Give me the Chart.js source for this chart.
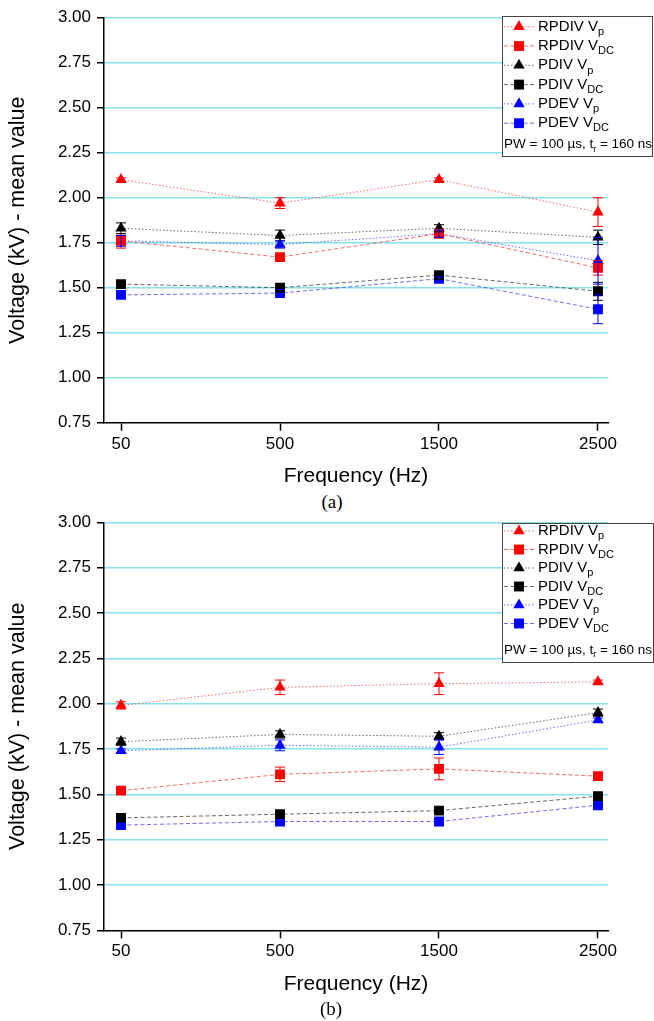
<!DOCTYPE html>
<html>
<head>
<meta charset="utf-8">
<script src="https://cdn.jsdelivr.net/npm/chart.js@4.4.1/dist/chart.umd.min.js"></script>
<style>
  body { margin: 0; background: #fff; }
  #page { position: relative; width: 654px; height: 1021px; overflow: hidden; }
  canvas { position: absolute; left: 0; }
  .cap { position: absolute; width: 60px; text-align: center; font: 19px "Liberation Serif", "Times New Roman", serif; color: #000; }
</style>
</head>
<body>
<div id="page">
  <canvas id="chartA" width="654" height="490" style="top:0"></canvas>
  <div class="cap" style="left:302px; top:491px">(a)</div>
  <canvas id="chartB" width="654" height="495" style="top:505px"></canvas>
  <div class="cap" style="left:301px; top:998px">(b)</div>
</div>
<script>
// x categories and series names
const freqLabels = ['50', '500', '1500', '2500'];
const seriesNames = ['RPDIV V', 'RPDIV V', 'PDIV V', 'PDIV V', 'PDEV V', 'PDEV V'];
const seriesSubs = ['p', 'DC', 'p', 'DC', 'p', 'DC'];
const yTicks = [0.75, 1.00, 1.25, 1.50, 1.75, 2.00, 2.25, 2.50, 2.75, 3.00];

// panel (a) mean values (kV) and error half-widths
const aRpdivVp = [2.10, 1.97, 2.10, 1.92];
const aRpdivVpErr = [0.01, 0.03, 0.01, 0.08];
const aRpdivVdc = [1.76, 1.67, 1.80, 1.61];
const aRpdivVdcErr = [0.04, 0.01, 0.02, 0.04];
const aPdivVp = [1.83, 1.79, 1.83, 1.78];
const aPdivVpErr = [0.03, 0.03, 0.02, 0.04];
const aPdivVdc = [1.52, 1.50, 1.57, 1.48];
const aPdivVdcErr = [0.01, 0.01, 0.01, 0.05];
const aPdevVp = [1.76, 1.74, 1.80, 1.65];
const aPdevVpErr = [0.03, 0.02, 0.02, 0.13];
const aPdevVdc = [1.46, 1.47, 1.55, 1.38];
const aPdevVdcErr = [0.02, 0.02, 0.01, 0.08];

// panel (b)
const bRpdivVp = [1.99, 2.09, 2.11, 2.12];
const bRpdivVpErr = [0.02, 0.04, 0.06, 0.01];
const bRpdivVdc = [1.52, 1.61, 1.64, 1.60];
const bRpdivVdcErr = [0.01, 0.04, 0.06, 0.02];
const bPdivVp = [1.79, 1.83, 1.82, 1.95];
const bPdivVpErr = [0.02, 0.02, 0.02, 0.02];
const bPdivVdc = [1.37, 1.39, 1.41, 1.49];
const bPdivVdcErr = [0.01, 0.01, 0.01, 0.01];
const bPdevVp = [1.74, 1.77, 1.76, 1.91];
const bPdevVpErr = [0.01, 0.03, 0.04, 0.01];
const bPdevVdc = [1.33, 1.35, 1.35, 1.44];
const bPdevVdcErr = [0.01, 0.01, 0.02, 0.01];

// look of each series
const markColors = ['#ff0000', '#ff0000', '#000000', '#000000', '#0000ff', '#0000ff'];
const lineColors = ['rgba(235,60,60,0.75)', 'rgba(235,60,60,0.75)', 'rgba(40,40,40,0.7)', 'rgba(40,40,40,0.7)', 'rgba(50,50,230,0.7)', 'rgba(50,50,230,0.7)'];
const markStyles = ['triangle', 'rect', 'triangle', 'rect', 'triangle', 'rect'];
const markSizes = [6.6, 7, 6.6, 7, 6.6, 7];
const DOTTED = [1.5, 2];
const DASHED = [4, 2.5];
const lineDashes = [DOTTED, DASHED, DOTTED, DASHED, DOTTED, DASHED];

const GRID = '#84e4ea';
const SANS = '"Liberation Sans", Arial, sans-serif';
Chart.defaults.font.family = SANS;
Chart.defaults.color = '#000';

function drawSub(ctx, main, sub, tail, x, y, size) {
  ctx.font = size + 'px ' + SANS;
  ctx.textBaseline = 'middle';
  ctx.fillText(main, x, y);
  x += ctx.measureText(main).width;
  const small = Math.round(size * 0.7);
  ctx.font = small + 'px ' + SANS;
  ctx.fillText(sub, x, y + size * 0.35);
  x += ctx.measureText(sub).width;
  if (tail) {
    ctx.font = size + 'px ' + SANS;
    ctx.fillText(tail, x, y);
  }
}

const errorBars = {
  id: 'errorBars',
  afterDatasetsDraw(chart) {
    const { ctx, scales: { x, y } } = chart;
    ctx.save();
    ctx.lineWidth = 1;
    chart.data.datasets.forEach(ds => {
      ctx.strokeStyle = ds.pointBackgroundColor;
      ds.data.forEach((p, i) => {
        const e = ds.errors[i];
        const px = x.getPixelForValue(p.x);
        const y1 = y.getPixelForValue(p.y + e);
        const y2 = y.getPixelForValue(p.y - e);
        ctx.beginPath();
        ctx.moveTo(px, y1); ctx.lineTo(px, y2);
        ctx.moveTo(px - 5, y1); ctx.lineTo(px + 5, y1);
        ctx.moveTo(px - 5, y2); ctx.lineTo(px + 5, y2);
        ctx.stroke();
      });
    });
    ctx.restore();
  }
};

const boxLegend = {
  id: 'boxLegend',
  afterDraw(chart, args, o) {
    const ctx = chart.ctx;
    ctx.save();
    ctx.fillStyle = '#fff';
    ctx.fillRect(o.left, o.top, o.width, o.height);
    ctx.strokeStyle = '#444';
    ctx.lineWidth = 1;
    ctx.strokeRect(o.left + 0.5, o.top + 0.5, o.width, o.height);
    chart.data.datasets.forEach((ds, i) => {
      const yy = o.rowTop + i * o.rowH;
      ctx.strokeStyle = ds.borderColor;
      ctx.setLineDash(ds.borderDash);
      ctx.beginPath();
      ctx.moveTo(o.left + 2, yy); ctx.lineTo(o.left + 32, yy);
      ctx.stroke();
      ctx.setLineDash([]);
      ctx.fillStyle = ds.pointBackgroundColor;
      Chart.helpers.drawPoint(ctx, { pointStyle: ds.pointStyle, radius: ds.pointRadius, rotation: 0, borderWidth: 0 }, o.left + 17, yy);
      ctx.fillStyle = '#000';
      drawSub(ctx, seriesNames[i], seriesSubs[i], '', o.left + 36, yy, 15);
    });
    drawSub(ctx, 'PW = 100 \u00b5s, t', 'r', ' = 160 ns', o.left + 2, o.pwRow, 13.5);
    ctx.restore();
  }
};

function makeChart(id, values, errors, box, areaTop, xHeight, titlePad) {
  const datasets = values.map((vals, i) => ({
    data: vals.map((v, k) => ({ x: k, y: v })),
    errors: errors[i],
    borderColor: lineColors[i],
    borderWidth: 1,
    borderDash: lineDashes[i],
    pointStyle: markStyles[i],
    pointRadius: markSizes[i],
    pointBorderWidth: 0,
    pointBackgroundColor: markColors[i],
    tension: 0
  }));
  return new Chart(document.getElementById(id), {
    type: 'line',
    data: { datasets },
    options: {
      responsive: false,
      animation: false,
      layout: { padding: { top: areaTop, right: 46, bottom: 0, left: 0 } },
      plugins: { legend: { display: false }, tooltip: { enabled: false }, boxLegend: box },
      scales: {
        x: {
          type: 'linear',
          min: -0.107,
          max: 3.063,
          afterBuildTicks: s => { s.ticks = freqLabels.map((_, k) => ({ value: k })); },
          afterFit: s => { s.height = xHeight; },
          ticks: { autoSkip: false, maxRotation: 0, padding: 3, font: { size: 17 }, callback: v => freqLabels[v] },
          grid: { drawOnChartArea: false, drawTicks: true, tickLength: 8, tickColor: '#000', tickWidth: 1.5 },
          border: { color: '#000', width: 1.5 },
          title: { display: true, text: 'Frequency (Hz)', font: { size: 21 }, padding: { top: 0, bottom: titlePad } }
        },
        y: {
          min: 0.75,
          max: 3,
          afterBuildTicks: s => { s.ticks = yTicks.map(v => ({ value: v })); },
          afterFit: s => { s.width = 104; },
          ticks: { padding: 6, font: { size: 17 }, callback: v => v.toFixed(2) },
          grid: {
            color: c => (c.tick && c.tick.value === 0.75 ? 'rgba(0,0,0,0)' : GRID),
            lineWidth: 1.5,
            tickLength: 7,
            tickColor: '#000',
            tickWidth: 1.5
          },
          border: { color: '#000', width: 1.5 },
          title: { display: true, text: 'Voltage (kV) - mean value', font: { size: 21.5 }, padding: { top: 5, bottom: 0 } }
        }
      }
    },
    plugins: [errorBars, boxLegend]
  });
}

makeChart('chartA',
  [aRpdivVp, aRpdivVdc, aPdivVp, aPdivVdc, aPdevVp, aPdevVdc],
  [aRpdivVpErr, aRpdivVdcErr, aPdivVpErr, aPdivVdcErr, aPdevVpErr, aPdevVdcErr],
  { left: 502, top: 16, width: 150, height: 140, rowTop: 26.7, rowH: 19.3, pwRow: 144.3 },
  17.7, 67.3, 1.5);

makeChart('chartB',
  [bRpdivVp, bRpdivVdc, bPdivVp, bPdivVdc, bPdevVp, bPdevVdc],
  [bRpdivVpErr, bRpdivVdcErr, bPdivVpErr, bPdivVdcErr, bPdevVpErr, bPdevVdcErr],
  { left: 502, top: 18, width: 151, height: 139, rowTop: 26, rowH: 18.5, pwRow: 145 },
  17.3, 69.7, 3.5);
</script>
</body>
</html>
